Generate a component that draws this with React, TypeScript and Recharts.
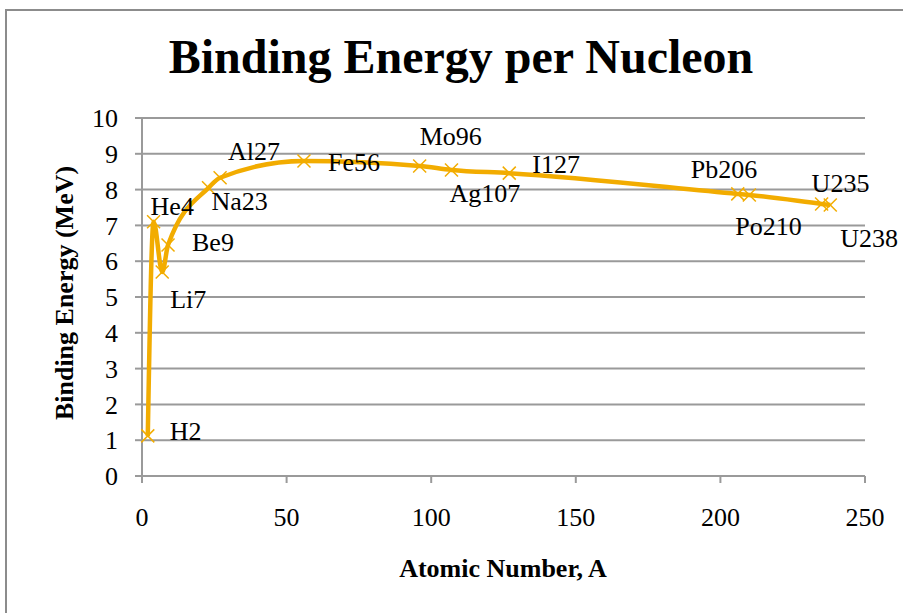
import React from "react";
import { LineChart, Line, CartesianGrid, XAxis, YAxis, LabelList } from "recharts";

// nuclide names, mass number A and binding energy per nucleon (MeV)
const nuclides = ["H2", "He4", "Li7", "Be9", "Na23", "Al27", "Fe56", "Mo96", "Ag107", "I127", "Pb206", "Po210", "U235", "U238"];
const massNumbers = [2, 4, 7, 9, 23, 27, 56, 96, 107, 127, 206, 210, 235, 238];
const bindingEnergy = [1.12, 7.1, 5.7, 6.45, 8.05, 8.33, 8.8, 8.66, 8.55, 8.46, 7.88, 7.85, 7.6, 7.57];

const xTicks = [0, 50, 100, 150, 200, 250];
const yTicks = [0, 1, 2, 3, 4, 5, 6, 7, 8, 9, 10];

const FONT = "'Liberation Serif', 'Times New Roman', serif";
const LINE_COLOR = "#F2AC00";
const GRID = "#9a9a9a";

// where each data label sits relative to its point (text start, baseline)
const labelOffset: Record<string, [number, number]> = {
  H2: [22, 4],
  He4: [-3, -7],
  Li7: [8, 36],
  Be9: [24, 6],
  Na23: [3, 22],
  Al27: [8, -18],
  Fe56: [24, 10],
  Mo96: [0, -21],
  Ag107: [-2, 32],
  I127: [23, 0],
  Pb206: [-47, -16],
  Po210: [-14, 40],
  U235: [-10, -12],
  U238: [10, 42]
};

const data = nuclides.map((name, i) => ({
  name,
  a: massNumbers[i],
  be: bindingEnergy[i]
}));

const renderDot = (props: any) => {
  const { cx, cy, index } = props;
  const s = 6.5;
  return (
    <g key={`dot-${index}`}>
      <line x1={cx - s} y1={cy - s} x2={cx + s} y2={cy + s} stroke={LINE_COLOR} strokeWidth={1.5} />
      <line x1={cx - s} y1={cy + s} x2={cx + s} y2={cy - s} stroke={LINE_COLOR} strokeWidth={1.5} />
    </g>
  );
};

const renderLabel = (props: any) => {
  const { x, y, value } = props;
  const [dx, dy] = labelOffset[value] ?? [10, 0];
  return (
    <text x={x + dx} y={y + dy} fontSize={26} fontFamily={FONT} fill='#000' textAnchor='start'>
      {value}
    </text>
  );
};

export default function App() {
  return (
    <div
      style={{
        position: "fixed",
        left: 0,
        top: 0,
        width: 903,
        height: 613,
        overflow: "hidden",
        background: "#fff"
      }}
    >
      {/* chart area border, runs off the bottom/right of the picture */}
      <div
        style={{
          position: "absolute",
          left: 5,
          top: 9,
          width: 1000,
          height: 1000,
          border: "2px solid #8c8c8c"
        }}
      />
      <div style={{ position: "absolute", left: 0, top: 0 }}>
        <LineChart width={903} height={613} data={data} margin={{ top: 118, right: 38, bottom: 87, left: 82 }}>
          <CartesianGrid vertical={false} stroke={GRID} strokeWidth={2} />
          <XAxis
            type='number'
            dataKey='a'
            domain={[0, 250]}
            ticks={xTicks}
            height={50}
            tickSize={7}
            tickMargin={25}
            axisLine={{ stroke: GRID, strokeWidth: 2 }}
            tickLine={{ stroke: GRID, strokeWidth: 2 }}
            tick={{ fontSize: 26, fontFamily: FONT, fill: "#000" }}
          />
          <YAxis
            type='number'
            domain={[0, 10]}
            ticks={yTicks}
            width={60}
            tickSize={7}
            tickMargin={17}
            axisLine={{ stroke: GRID, strokeWidth: 2 }}
            tickLine={{ stroke: GRID, strokeWidth: 2 }}
            tick={{ fontSize: 26, fontFamily: FONT, fill: "#000" }}
          />
          <Line
            type='monotone'
            dataKey='be'
            stroke={LINE_COLOR}
            strokeWidth={4.5}
            dot={renderDot}
            activeDot={false}
            isAnimationActive={false}
          >
            <LabelList dataKey='name' content={renderLabel} />
          </Line>
        </LineChart>
      </div>
      <svg width={903} height={613} style={{ position: "absolute", left: 0, top: 0, pointerEvents: "none" }}>
        <text x={461} y={73} textAnchor='middle' fontSize={48} fontWeight='bold' fontFamily={FONT} fill='#000'>
          Binding Energy per Nucleon
        </text>
        <text x={503} y={577} textAnchor='middle' fontSize={26} fontWeight='bold' fontFamily={FONT} fill='#000'>
          Atomic Number, A
        </text>
        <text
          x={73}
          y={293}
          transform='rotate(-90 73 293)'
          textAnchor='middle'
          fontSize={26}
          fontWeight='bold'
          fontFamily={FONT}
          fill='#000'
        >
          Binding Energy (MeV)
        </text>
      </svg>
    </div>
  );
}
